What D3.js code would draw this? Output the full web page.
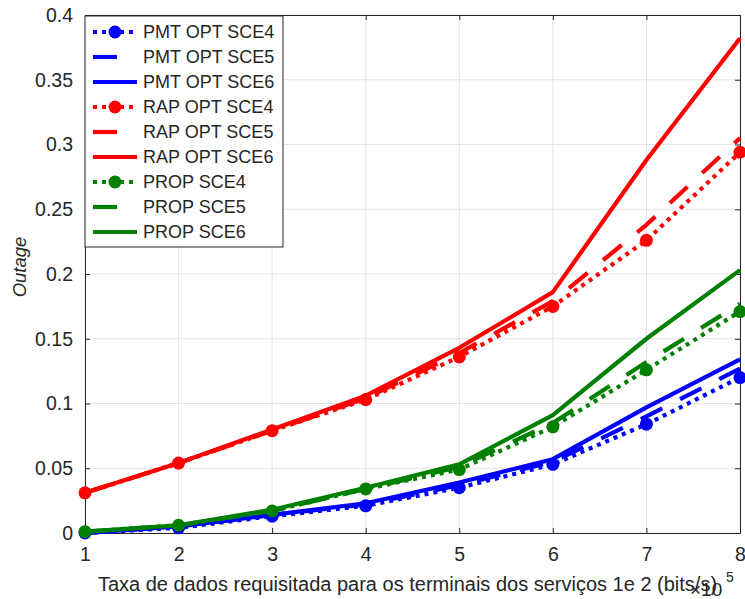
<!DOCTYPE html>
<html>
<head>
<meta charset="utf-8">
<script src="https://cdn.jsdelivr.net/npm/d3@7"></script>
<style>
  html, body { margin: 0; padding: 0; background: #fff; }
  svg text { font-family: "Liberation Sans", Arial, Helvetica, sans-serif; fill: #262626; }
</style>
</head>
<body>
<svg id="chart" width="745" height="599"></svg>
<script>
// Requested data rate (x 10^5 bits/s)
const rates = [1, 2, 3, 4, 5, 6, 7, 8];

// Outage probability per scheme and scenario
const pmtSce4  = [0.000, 0.004, 0.013, 0.021, 0.035, 0.053, 0.084, 0.120];
const pmtSce5  = [0.000, 0.005, 0.014, 0.022, 0.037, 0.055, 0.090, 0.127];
const pmtSce6  = [0.000, 0.005, 0.014, 0.023, 0.039, 0.057, 0.097, 0.134];
const rapSce4  = [0.031, 0.054, 0.079, 0.103, 0.136, 0.175, 0.226, 0.294];
const rapSce5  = [0.031, 0.054, 0.079, 0.104, 0.139, 0.179, 0.238, 0.305];
const rapSce6  = [0.031, 0.054, 0.080, 0.106, 0.143, 0.186, 0.288, 0.382];
const propSce4 = [0.001, 0.006, 0.017, 0.034, 0.049, 0.082, 0.126, 0.171];
const propSce5 = [0.001, 0.006, 0.017, 0.034, 0.051, 0.085, 0.132, 0.177];
const propSce6 = [0.001, 0.006, 0.018, 0.035, 0.053, 0.091, 0.150, 0.203];

const seriesNames = ["PMT OPT SCE4", "PMT OPT SCE5", "PMT OPT SCE6",
                     "RAP OPT SCE4", "RAP OPT SCE5", "RAP OPT SCE6",
                     "PROP SCE4", "PROP SCE5", "PROP SCE6"];
const seriesValues = [pmtSce4, pmtSce5, pmtSce6, rapSce4, rapSce5, rapSce6, propSce4, propSce5, propSce6];

const xTicks = [1, 2, 3, 4, 5, 6, 7, 8];
const xTickLabels = ["1", "2", "3", "4", "5", "6", "7", "8"];
const yTicks = [0, 0.05, 0.1, 0.15, 0.2, 0.25, 0.3, 0.35, 0.4];
const yTickLabels = ["0", "0.05", "0.1", "0.15", "0.2", "0.25", "0.3", "0.35", "0.4"];

// Styling
const colors = ["#0000ff", "#0000ff", "#0000ff", "#ff0000", "#ff0000", "#ff0000", "#008000", "#008000", "#008000"];
const styles = ["dot", "dash", "solid", "dot", "dash", "solid", "dot", "dash", "solid"];
const dashFor = { dot: "4,5", dash: "24,20", solid: null };
const lineW = 4.2;
const axisCol = "#262626";
const gridCol = "#e3e3e3";

const svg = d3.select("#chart");
const L = 85, R = 740, T = 15, B = 533;

const x = d3.scaleLinear().domain([1, 8]).range([L, R]);
const y = d3.scaleLinear().domain([0, 0.4]).range([B, T]);

// Grid
const grid = svg.append("g");
grid.selectAll("line.gx").data(xTicks).join("line")
  .attr("x1", d => x(d)).attr("x2", d => x(d)).attr("y1", T).attr("y2", B)
  .attr("stroke", gridCol).attr("stroke-width", 1);
grid.selectAll("line.gy").data(yTicks).join("line")
  .attr("x1", L).attr("x2", R).attr("y1", d => y(d)).attr("y2", d => y(d))
  .attr("stroke", gridCol).attr("stroke-width", 1);

// Axes with inward ticks on all four sides
const tickLen = 5;
const fmtX = d => xTickLabels[xTicks.indexOf(d)];
const fmtY = d => yTickLabels[yTicks.indexOf(d)];
const axB = d3.axisBottom(x).tickValues(xTicks).tickFormat(fmtX).tickSizeInner(-tickLen).tickSizeOuter(0).tickPadding(14);
const axL = d3.axisLeft(y).tickValues(yTicks).tickFormat(fmtY).tickSizeInner(-tickLen).tickSizeOuter(0).tickPadding(12);
const axT = d3.axisTop(x).tickValues(xTicks).tickSizeInner(-tickLen).tickSizeOuter(0).tickFormat("");
const axR = d3.axisRight(y).tickValues(yTicks).tickSizeInner(-tickLen).tickSizeOuter(0).tickFormat("");

function styleAxis(g) {
  g.selectAll("path").attr("stroke", axisCol).attr("stroke-width", 1);
  g.selectAll("line").attr("stroke", axisCol).attr("stroke-width", 1);
  g.selectAll("text").attr("fill", axisCol).style("font-size", "19.5px")
    .style("font-family", '"Liberation Sans", Arial, sans-serif');
}
svg.append("g").attr("transform", `translate(0,${B})`).call(axB).call(styleAxis);
svg.append("g").attr("transform", `translate(${L},0)`).call(axL).call(styleAxis);
svg.append("g").attr("transform", `translate(0,${T})`).call(axT).call(styleAxis);
svg.append("g").attr("transform", `translate(${R},0)`).call(axR).call(styleAxis);

// Series
const line = d3.line().x((d, i) => x(rates[i])).y(d => y(d));
const plot = svg.append("g");
seriesValues.forEach((vals, k) => {
  const p = plot.append("path").datum(vals)
    .attr("d", line)
    .attr("fill", "none")
    .attr("stroke", colors[k])
    .attr("stroke-width", lineW)
    .attr("stroke-linejoin", "round");
  if (dashFor[styles[k]]) p.attr("stroke-dasharray", dashFor[styles[k]]);
  if (styles[k] === "dot") {
    plot.selectAll(null).data(vals).join("circle")
      .attr("cx", (d, i) => x(rates[i])).attr("cy", d => y(d))
      .attr("r", 6.5).attr("fill", colors[k]);
  }
});

// Axis labels
svg.append("text")
  .attr("x", (L + R) / 2 - 5).attr("y", 591)
  .attr("text-anchor", "middle")
  .style("font-size", "20px")
  .text("Taxa de dados requisitada para os terminais dos serviços 1e 2 (bits/s)");

svg.append("text")
  .attr("transform", "translate(26,267) rotate(-90)")
  .attr("text-anchor", "middle")
  .style("font-size", "18.5px")
  .style("font-style", "italic")
  .text("Outage");

// Exponent of the x axis
svg.append("text").attr("x", 690).attr("y", 596).style("font-size", "19px").text("×10");
svg.append("text").attr("x", 726).attr("y", 582).style("font-size", "14px").text("5");

// Legend
const lg = svg.append("g");
lg.append("rect").attr("x", L).attr("y", 16).attr("width", 198).attr("height", 231)
  .attr("fill", "#fff").attr("stroke", axisCol).attr("stroke-width", 1);
seriesNames.forEach((name, k) => {
  const cy = 32 + 25 * k;
  const ln = lg.append("line").attr("x1", 93).attr("x2", 137).attr("y1", cy).attr("y2", cy)
    .attr("stroke", colors[k]).attr("stroke-width", lineW);
  if (dashFor[styles[k]]) ln.attr("stroke-dasharray", dashFor[styles[k]]);
  if (styles[k] === "dot") {
    lg.append("circle").attr("cx", 115).attr("cy", cy).attr("r", 6.5).attr("fill", colors[k]);
  }
  lg.append("text").attr("x", 143).attr("y", cy).attr("dy", "0.36em")
    .style("font-size", "18px").attr("fill", "#000").text(name);
});
</script>
</body>
</html>
